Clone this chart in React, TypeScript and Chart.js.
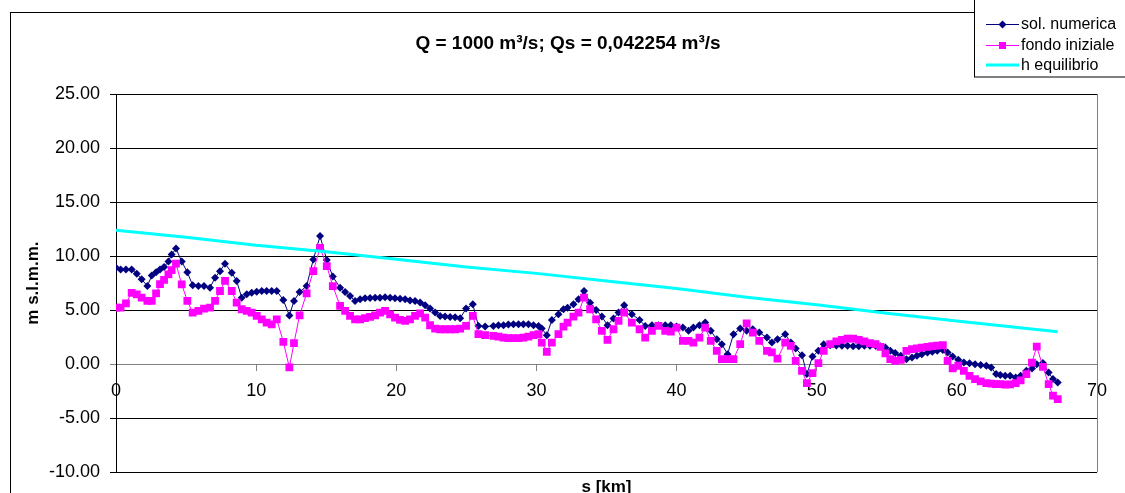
import React, { useEffect, useRef } from "react";
import { Chart, registerables } from "chart.js";

Chart.register(...registerables);

const FONT = "'Liberation Sans', Arial, Helvetica, sans-serif";

const chartTitle = "Q = 1000 m³/s; Qs = 0,042254 m³/s";
const xTitle = "s [km]";
const yTitle = "m s.l.m.m.";
const seriesNames = ["sol. numerica", "fondo iniziale", "h equilibrio"];

// progressive distance (km) of the cross sections
const km = [
  0, 0.33, 0.71, 1.12, 1.48, 1.83, 2.24, 2.55, 2.86, 3.14, 3.43, 3.74, 3.97, 4.28, 4.69, 5.09, 5.47, 5.88, 6.28, 6.71,
  7.07, 7.42, 7.78, 8.26, 8.61, 8.97, 9.33, 9.68, 10.04, 10.4, 10.75, 11.11, 11.47, 11.94, 12.37, 12.7,
  13.1, 13.6, 14.08, 14.56, 15.04, 15.47, 15.99, 16.35, 16.7, 17.06, 17.42, 17.77, 18.13, 18.49, 18.84, 19.2, 19.56,
  19.91, 20.27, 20.63, 20.98, 21.34, 21.7, 22.06, 22.41, 22.77, 23.13, 23.48, 23.84, 24.2, 24.56, 24.98, 25.46, 25.86, 26.34,
  26.93, 27.29, 27.65, 28.0, 28.36, 28.72, 29.07, 29.43, 29.79, 30.15, 30.38, 30.74, 31.1, 31.57, 31.93, 32.22, 32.64,
  33.0, 33.4, 33.83, 34.26, 34.67, 35.07, 35.5, 35.86, 36.26, 36.81, 37.36, 37.76, 38.24, 38.71, 39.19, 39.59, 40.0,
  40.45, 40.85, 41.2, 41.63, 42.04, 42.44, 42.87, 43.23, 43.64, 44.06, 44.54, 45.0, 45.44, 45.9, 46.45, 46.8, 47.2,
  47.75, 48.15, 48.5, 48.95, 49.3, 49.7, 50.12, 50.5, 50.96, 51.4, 51.8, 52.2, 52.6, 53.0, 53.4,
  53.8, 54.2, 54.55, 54.9, 55.25, 55.6, 56.0, 56.4, 56.8, 57.15, 57.5, 57.9, 58.25, 58.6, 59.0, 59.34, 59.7, 60.1,
  60.5, 60.9, 61.3, 61.7, 62.1, 62.45, 62.8, 63.1, 63.45, 63.8, 64.2, 64.55, 64.96, 65.36, 65.7, 66.14, 66.55, 66.86, 67.2,
];

const solNumerica = [
  8.92, 8.77, 8.77, 8.77, 8.37, 7.85, 7.23, 8.2, 8.5, 8.77, 9.0, 9.5, 10.15, 10.7, 9.5, 8.5, 7.3, 7.23, 7.23, 7.08,
  8.0, 8.6, 9.3, 8.46, 7.7, 6.15, 6.46, 6.6, 6.7, 6.77, 6.77, 6.77, 6.77, 5.94, 4.5, 5.85,
  6.68, 7.23, 9.69, 11.85, 9.63, 8.1, 7.08, 6.68, 6.3, 5.85, 6.0, 6.09, 6.12, 6.15, 6.15, 6.18, 6.15,
  6.09, 6.06, 6.0, 5.9, 5.85, 5.7, 5.45, 5.14, 4.77, 4.46, 4.4, 4.37, 4.34, 4.25, 5.14, 5.54, 3.54, 3.48,
  3.54, 3.6, 3.6, 3.66, 3.69, 3.69, 3.69, 3.69, 3.6, 3.54, 3.29, 2.68, 4.09, 4.62, 5.08, 5.23, 5.54,
  6.0, 6.77, 5.69, 5.02, 4.4, 3.6, 4.22, 4.77, 5.45, 4.62, 4.09, 3.54, 3.6, 3.6, 3.6, 3.6, 3.48,
  3.38, 3.08, 3.38, 3.6, 3.85, 3.08, 2.3, 1.85, 0.92, 2.77, 3.29, 3.08, 3.23, 2.92, 2.46, 2.0, 2.3,
  2.77, 2.0, 1.45, 0.83, -0.92, 0.7, 1.23, 1.85, 1.75, 1.72, 1.7, 1.7, 1.65, 1.65, 1.7,
  1.7, 1.7, 1.65, 1.54, 1.23, 1.02, 0.77, 0.46, 0.62, 0.77, 0.92, 1.08, 1.14, 1.23, 1.32, 1.08, 0.71, 0.4,
  0.15, 0.09, 0.0, -0.09, -0.15, -0.3, -0.92, -1.0, -1.08, -1.08, -1.23, -1.08, -0.62, -0.4, 0.0, 0.1, -0.77, -1.38, -1.69,
];

const fondoIniziale = [
  5.23, 5.23, 5.63, 6.6, 6.46, 6.15, 5.85, 5.85, 6.55, 7.4, 7.8, 8.3, 8.7, 9.3, 7.38, 5.85, 4.77, 4.92, 5.14, 5.23,
  5.85, 6.77, 7.7, 6.77, 5.7, 5.08, 4.92, 4.77, 4.46, 4.15, 3.85, 3.69, 4.15, 2.06, -0.3, 1.94,
  4.52, 6.55, 8.6, 10.77, 9.08, 7.23, 5.4, 4.92, 4.46, 4.15, 4.15, 4.25, 4.37, 4.52, 4.77, 4.92, 4.6,
  4.3, 4.09, 4.0, 4.15, 4.46, 4.7, 4.3, 3.6, 3.29, 3.23, 3.23, 3.23, 3.23, 3.29, 3.54, 4.46, 2.77, 2.68,
  2.62, 2.55, 2.46, 2.4, 2.4, 2.4, 2.46, 2.55, 2.68, 2.77, 2.0, 1.14, 2.0, 2.77, 3.48, 3.85, 4.4,
  4.77, 6.15, 5.08, 4.15, 3.08, 2.25, 3.23, 4.0, 4.77, 3.85, 3.23, 2.46, 3.08, 3.54, 3.08, 3.0, 3.38,
  2.15, 2.15, 2.0, 2.46, 3.38, 2.15, 1.23, 0.46, 0.46, 0.46, 1.85, 3.78, 2.92, 2.15, 1.23, 1.08, 0.52,
  2.0, 1.69, 0.31, -0.62, -1.75, -0.83, 0.09, 1.23, 1.85, 2.1, 2.25, 2.37, 2.37, 2.25, 2.1,
  1.95, 1.85, 1.6, 1.0, 0.46, 0.31, 0.4, 1.23, 1.38, 1.45, 1.52, 1.6, 1.66, 1.72, 1.75, 0.31, -0.4, -0.15,
  -0.62, -1.08, -1.38, -1.6, -1.75, -1.8, -1.85, -1.85, -1.9, -1.88, -1.75, -1.5, -0.92, 0.15, 1.63, -0.25, -1.85, -2.92, -3.23,
];

const hKm = [0, 5, 10, 15, 20, 25, 30, 35, 40, 45, 50, 55, 60, 65, 67.2];
const hEquilibrio = [12.4, 11.75, 11.0, 10.4, 9.7, 9.0, 8.4, 7.7, 7.0, 6.2, 5.5, 4.7, 4.0, 3.3, 3.0];

const xRange = [0, 70];
const xStep = 10;
const yRange = [-10, 25];
const yStep = 5;

const NAVY = "#000080";
const MAGENTA = "#FF00FF";
const CYAN = "#00FFFF";

const decorPlugin = {
  id: "decor",
  beforeDraw(chart: any) {
    const ctx = chart.ctx;
    ctx.save();
    ctx.fillStyle = "#ffffff";
    ctx.fillRect(0, 0, chart.width, chart.height);
    ctx.strokeStyle = "#000000";
    ctx.lineWidth = 1;
    ctx.strokeRect(10.5, 12.5, 1300, 700);
    ctx.restore();
  },
  afterDraw(chart: any) {
    const ctx = chart.ctx;
    const a = chart.chartArea;
    ctx.save();
    // right border of plot area
    ctx.strokeStyle = "#808080";
    ctx.lineWidth = 1;
    const rx = Math.round(a.right) + 0.5;
    ctx.beginPath();
    ctx.moveTo(rx, a.top);
    ctx.lineTo(rx, a.bottom);
    ctx.stroke();

    // title
    ctx.fillStyle = "#000000";
    ctx.textAlign = "center";
    ctx.textBaseline = "middle";
    ctx.font = `bold 19px ${FONT}`;
    ctx.fillText(chartTitle, 568, 44);

    // x title
    ctx.font = `bold 17px ${FONT}`;
    ctx.fillText(xTitle, (a.left + a.right) / 2, 487);

    // y title
    ctx.save();
    ctx.translate(33, (a.top + a.bottom) / 2);
    ctx.rotate(-Math.PI / 2);
    ctx.fillText(yTitle, 0, 0);
    ctx.restore();

    // legend
    ctx.fillStyle = "#ffffff";
    ctx.fillRect(974, 0, 160, 77);
    ctx.strokeStyle = "#000000";
    ctx.lineWidth = 1;
    ctx.strokeRect(974.5, -0.5, 170, 77.5);
    const rows = [24, 45, 65];
    const x0 = 986, x1 = 1019, xm = 1002.5;
    // sol numerica
    ctx.strokeStyle = NAVY;
    ctx.lineWidth = 1;
    ctx.beginPath();
    ctx.moveTo(x0, rows[0] + 0.5);
    ctx.lineTo(x1, rows[0] + 0.5);
    ctx.stroke();
    ctx.fillStyle = NAVY;
    ctx.beginPath();
    ctx.moveTo(xm, rows[0] + 0.5 - 4);
    ctx.lineTo(xm + 4, rows[0] + 0.5);
    ctx.lineTo(xm, rows[0] + 0.5 + 4);
    ctx.lineTo(xm - 4, rows[0] + 0.5);
    ctx.closePath();
    ctx.fill();
    // fondo iniziale
    ctx.strokeStyle = MAGENTA;
    ctx.beginPath();
    ctx.moveTo(x0, rows[1] + 0.5);
    ctx.lineTo(x1, rows[1] + 0.5);
    ctx.stroke();
    ctx.fillStyle = MAGENTA;
    ctx.fillRect(xm - 3.5, rows[1] + 0.5 - 3.5, 7, 7);
    // h equilibrio
    ctx.strokeStyle = CYAN;
    ctx.lineWidth = 3;
    ctx.beginPath();
    ctx.moveTo(x0, rows[2]);
    ctx.lineTo(x1, rows[2]);
    ctx.stroke();

    ctx.fillStyle = "#000000";
    ctx.textAlign = "left";
    ctx.textBaseline = "middle";
    ctx.font = `16px ${FONT}`;
    seriesNames.forEach((n, i) => ctx.fillText(n, 1021, rows[i] + 1));
    ctx.restore();
  },
};

export default function App() {
  const canvasRef = useRef<HTMLCanvasElement | null>(null);

  useEffect(() => {
    const canvas = canvasRef.current;
    if (!canvas) return;
    Chart.defaults.font.family = FONT;
    const chart = new Chart(canvas, {
      type: "scatter",
      data: {
        datasets: [
          {
            label: seriesNames[0],
            data: km.map((x, i) => ({ x, y: solNumerica[i] })),
            showLine: true,
            borderColor: NAVY,
            backgroundColor: NAVY,
            borderWidth: 1,
            pointStyle: "rectRot",
            pointRadius: 4,
            pointBorderWidth: 0,
            pointBackgroundColor: NAVY,
            order: 2,
          },
          {
            label: seriesNames[1],
            data: km.map((x, i) => ({ x, y: fondoIniziale[i] })),
            showLine: true,
            borderColor: MAGENTA,
            backgroundColor: MAGENTA,
            borderWidth: 1,
            pointStyle: "rect",
            pointRadius: 5.5,
            pointBorderWidth: 0,
            pointBackgroundColor: MAGENTA,
            order: 1,
          },
          {
            label: seriesNames[2],
            data: hKm.map((x, i) => ({ x, y: hEquilibrio[i] })),
            showLine: true,
            borderColor: CYAN,
            backgroundColor: CYAN,
            borderWidth: 3,
            pointRadius: 0,
            order: 0,
          },
        ],
      },
      options: {
        animation: false,
        responsive: false,
        devicePixelRatio: 1,
        layout: { padding: { left: 0, top: 94, right: 28, bottom: 20 } },
        plugins: {
          legend: { display: false },
          title: { display: false },
          tooltip: { enabled: false },
        },
        scales: {
          x: {
            type: "linear",
            position: { y: 0 } as any,
            min: xRange[0],
            max: xRange[1],
            ticks: {
              stepSize: xStep,
              font: { size: 18 },
              color: "#000000",
              padding: 10,
              maxRotation: 0,
              autoSkip: false,
              callback: (v: any) => String(v),
            },
            grid: { drawOnChartArea: false, drawTicks: true, tickLength: 6, color: "#808080" },
            border: { display: true, color: "#808080", width: 1 },
            afterFit: (s: any) => {
              s.height = 0;
            },
          },
          y: {
            type: "linear",
            position: "left",
            min: yRange[0],
            max: yRange[1],
            ticks: {
              stepSize: yStep,
              font: { size: 18 },
              color: "#000000",
              padding: 10,
              callback: (v: any) => Number(v).toFixed(2),
            },
            grid: {
              color: (c: any) => (c.tick && c.tick.value === 0 ? "#808080" : "#000000"),
              tickLength: 6,
              lineWidth: 1,
            },
            border: { display: true, color: "#000000", width: 1 },
            afterFit: (s: any) => {
              s.width = 116;
            },
          },
        },
      },
      plugins: [decorPlugin],
    } as any);
    return () => chart.destroy();
  }, []);

  return (
    <div style={{ position: "fixed", left: 0, top: 0, width: 1125, height: 493, background: "#fff" }}>
      <canvas ref={canvasRef} width={1125} height={493} style={{ display: "block" }} />
    </div>
  );
}
